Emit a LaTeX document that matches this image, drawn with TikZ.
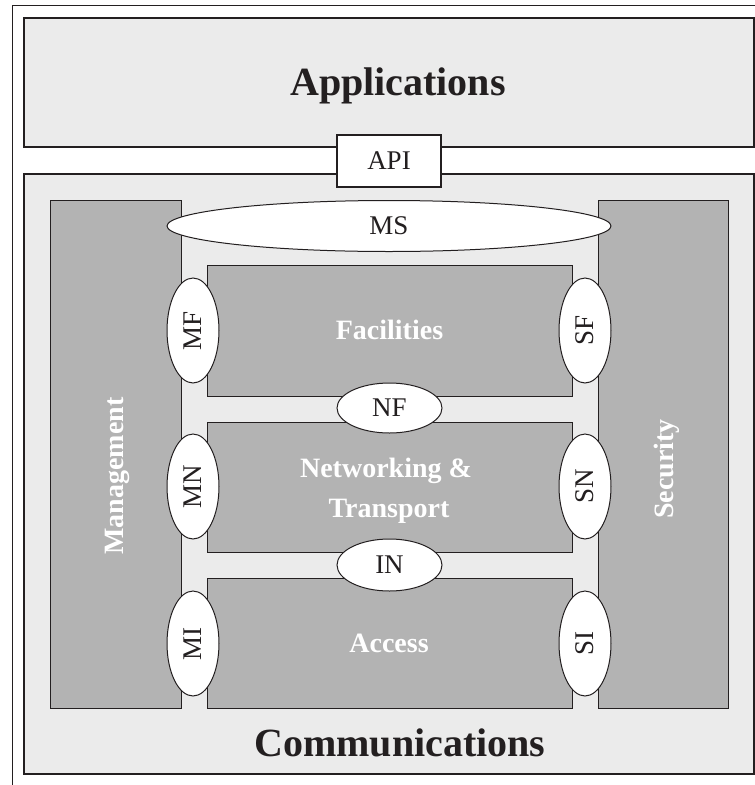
\documentclass[tikz,border=0pt]{standalone}
\usepackage{fontspec}
\setmainfont{Liberation Serif}
\usetikzlibrary{shapes.geometric}
\definecolor{lightg}{HTML}{EBEBEB}
\definecolor{darkg}{HTML}{B3B3B3}
\definecolor{ink}{HTML}{231F20}
\begin{document}
\begin{tikzpicture}[x=1pt,y=-1pt,
  lightbox/.style={draw=ink, line width=1.2pt, fill=lightg, inner sep=0pt},
  darkbox/.style={draw=ink, line width=1pt, fill=darkg, inner sep=0pt},
  oval/.style={ellipse, draw=ink, line width=1pt, fill=white, inner sep=0pt, text=ink, font=\fontsize{27}{32}\selectfont},
  whitelabel/.style={text=white, inner sep=0pt, font=\bfseries\fontsize{28}{40}\selectfont},
  biglabel/.style={text=ink, inner sep=0pt, font=\bfseries\fontsize{40}{48}\selectfont}
]
\clip (0,0) rectangle (755,785);
\fill[white] (0,0) rectangle (755,785);
\draw[draw=ink, line width=0.8pt] (12,5) rectangle (800,830);

% Applications layer
\node[lightbox, minimum width=730pt, minimum height=129pt] (app) at (389,82.5) {};
\node[biglabel, anchor=base] (applbl) at (398,95) {Applications};

% Communications layer
\node[lightbox, minimum width=730pt, minimum height=600pt] (comm) at (389,474) {};
\node[biglabel, anchor=base] (commlbl) at (400,756) {Communications};

% API
\node[draw=ink, line width=2pt, fill=white, inner sep=0pt, minimum width=104pt, minimum height=52pt,
      text=ink, font=\fontsize{27}{32}\selectfont] (api) at (389,161) {API};

% Columns
\node[darkbox, minimum width=131pt, minimum height=508pt] (mgmt) at (115.5,454) {};
\node[whitelabel, rotate=90, anchor=base] (mgmtlbl) at (123,476) {Management};
\node[darkbox, minimum width=130pt, minimum height=508pt] (sec) at (663,454) {};
\node[whitelabel, rotate=90, anchor=base] (seclbl) at (673,469) {Security};

% Layers
\node[darkbox, minimum width=365pt, minimum height=131pt] (fac) at (389.5,330.5) {};
\node[whitelabel, anchor=base] (faclbl) at (389.5,339) {Facilities};
\node[darkbox, minimum width=365pt, minimum height=130pt] (net) at (389.5,487) {};
\node[whitelabel, anchor=base] (netlbla) at (386,477) {Networking \&};
\node[whitelabel, anchor=base] (netlblb) at (389,517) {Transport};
\node[darkbox, minimum width=365pt, minimum height=130pt] (acc) at (389.5,643) {};
\node[whitelabel, anchor=base] (acclbl) at (389,652) {Access};

% Interfaces
\node[oval, minimum width=444pt, minimum height=51pt] (ms) at (389,226) {MS};
\node[oval, minimum width=105pt, minimum height=50pt] (nf) at (389.5,408) {NF};
\node[oval, minimum width=105pt, minimum height=52pt] (in) at (389.5,565) {IN};
\node[oval, rotate=90, minimum width=105pt, minimum height=52pt] (mf) at (193,330.5) {MF};
\node[oval, rotate=90, minimum width=105pt, minimum height=52pt] (mn) at (193,486.5) {MN};
\node[oval, rotate=90, minimum width=105pt, minimum height=52pt] (mi) at (193,643.5) {MI};
\node[oval, rotate=90, minimum width=105pt, minimum height=52pt] (sf) at (585,330.5) {SF};
\node[oval, rotate=90, minimum width=105pt, minimum height=52pt] (sn) at (585,486.5) {SN};
\node[oval, rotate=90, minimum width=105pt, minimum height=52pt] (si) at (585,643.5) {SI};
\end{tikzpicture}
\end{document}
